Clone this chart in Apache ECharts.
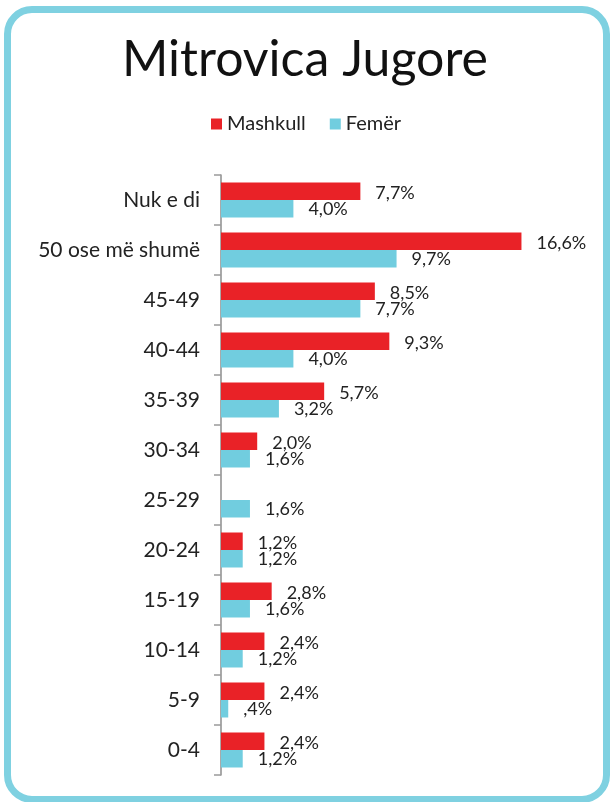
<!DOCTYPE html>
<html>
<head>
<meta charset="utf-8">
<script src="https://cdn.jsdelivr.net/npm/echarts@6/dist/echarts.min.js"></script>
<style>
  html, body { margin: 0; padding: 0; background: #fff; }
  #frame {
    position: absolute; left: 4px; top: 6px; width: 606px; height: 797px;
    box-sizing: border-box; border: 7px solid #7fd1e1; border-radius: 28px;
  }
  #main { position: absolute; left: 0; top: 0; width: 610px; height: 802px; }
</style>
</head>
<body>
<div id="frame"></div>
<div id="main"></div>
<script>
var categories = ['Nuk e di', '50 ose më shumë', '45-49', '40-44', '35-39', '30-34',
  '25-29', '20-24', '15-19', '10-14', '5-9', '0-4'];
var mashkull = [7.7, 16.6, 8.5, 9.3, 5.7, 2.0, null, 1.2, 2.8, 2.4, 2.4, 2.4];
var femer = [4.0, 9.7, 7.7, 4.0, 3.2, 1.6, 1.6, 1.2, 1.6, 1.2, 0.4, 1.2];

// 1,2% style labels, ,4% when under 1
function fmt(p) {
  var s = p.value.toFixed(1).replace('.', ',');
  if (s.indexOf('0,') === 0) s = s.substring(1);
  return s + '%';
}

var myChart = echarts.init(document.getElementById('main'));
var font = 'Lato, "Open Sans", sans-serif';
var option = {
  animation: false,
  title: {
    text: 'Mitrovica Jugore',
    left: 'center',
    top: 30,
    padding: [5, 0, 5, 10],
    textStyle: { fontFamily: font, fontSize: 50, fontWeight: 'normal', color: '#111' }
  },
  legend: {
    data: ['Mashkull', 'Femër'],
    top: 114,
    left: 211,
    padding: 0,
    itemWidth: 11,
    itemHeight: 11,
    itemGap: 24,
    icon: 'rect',
    textStyle: { fontFamily: font, fontSize: 20, color: '#222' }
  },
  grid: { left: 221, top: 175, width: 362, height: 600 },
  xAxis: {
    type: 'value',
    min: 0,
    max: 20,
    show: false
  },
  yAxis: {
    type: 'category',
    data: categories,
    inverse: true,
    axisLine: { lineStyle: { color: '#8c8c8c', width: 1.5 } },
    axisTick: { show: true, length: 7, lineStyle: { color: '#9a9a9a', width: 1.5 } },
    axisLabel: { fontFamily: font, fontSize: 21, color: '#222', margin: 21 }
  },
  series: [
    {
      name: 'Mashkull',
      type: 'bar',
      data: mashkull,
      barGap: '0%',
      barCategoryGap: '30%',
      itemStyle: { color: '#e92227' },
      label: { show: true, position: 'right', distance: 15, formatter: fmt,
        fontFamily: font, fontSize: 18, color: '#222', offset: [0, 2] }
    },
    {
      name: 'Femër',
      type: 'bar',
      data: femer,
      itemStyle: { color: '#71cddf' },
      label: { show: true, position: 'right', distance: 15, formatter: fmt,
        fontFamily: font, fontSize: 18, color: '#222' }
    }
  ]
};
myChart.setOption(option);
</script>
</body>
</html>
